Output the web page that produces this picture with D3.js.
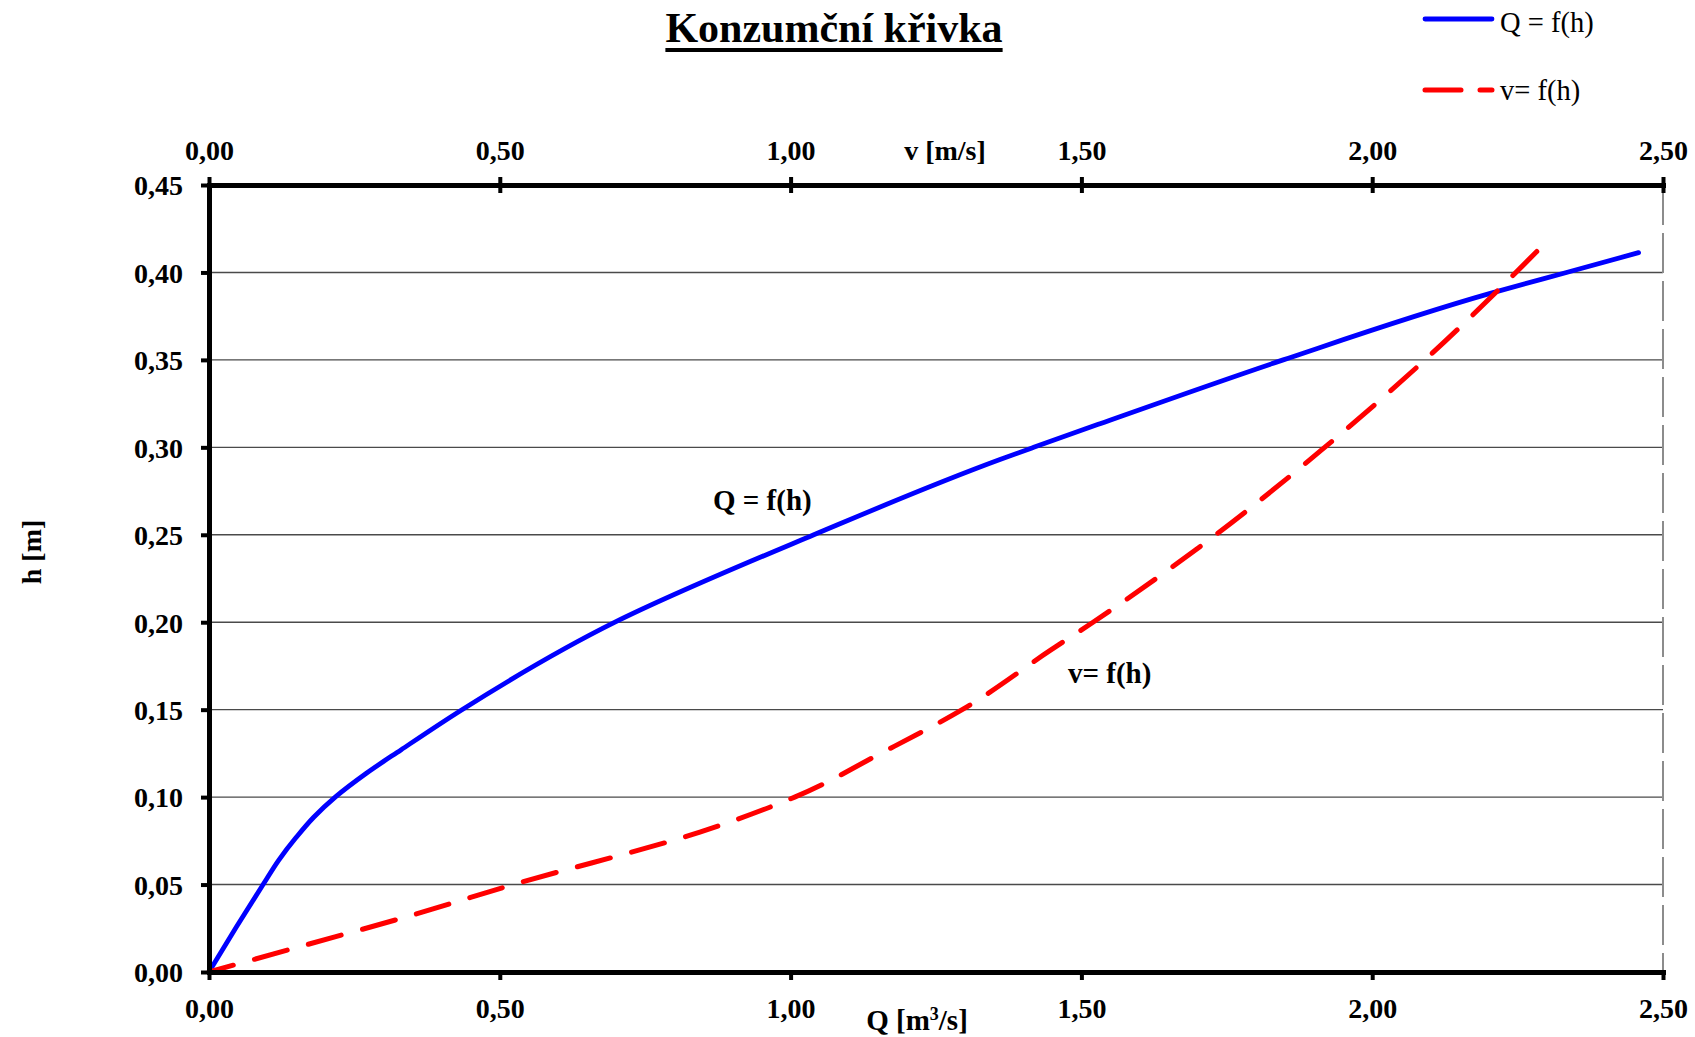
<!DOCTYPE html>
<html>
<head>
<meta charset="utf-8">
<script src="https://cdn.jsdelivr.net/npm/d3@7"></script>
<style>
  html, body { margin: 0; padding: 0; background: #fff; }
  svg { display: block; font-family: "Liberation Serif", "Times New Roman", serif; }
</style>
</head>
<body>
<svg id="chart" width="1695" height="1037"></svg>
<script>
// ---- data ----
const title = "Konzumční křivka";
const xTicks = [0, 0.5, 1.0, 1.5, 2.0, 2.5];
const yTicks = [0, 0.05, 0.10, 0.15, 0.20, 0.25, 0.30, 0.35, 0.40, 0.45];
// Q = f(h): discharge Q [m3/s] vs depth h [m]
const qValues = [0, 0.047, 0.093, 0.120, 0.150, 0.180, 0.217, 0.270, 0.330, 0.435, 0.698, 1.040, 1.360, 1.418, 1.532, 1.847, 2.203, 2.334, 2.458];
const qDepths = [0, 0.0257, 0.050, 0.064, 0.077, 0.0885, 0.100, 0.1135, 0.127, 0.150, 0.200, 0.250, 0.293, 0.300, 0.3135, 0.350, 0.388, 0.400, 0.4113];
// v = f(h): velocity v [m/s] vs depth h [m]
const vValues = [0, 0.156, 0.340, 0.523, 0.844, 1.007, 1.155, 1.295, 1.447, 1.520, 1.731, 1.913, 2.094, 2.240, 2.283];
const vDepths = [0, 0.0145, 0.0316, 0.050, 0.080, 0.100, 0.125, 0.150, 0.184, 0.200, 0.250, 0.2985, 0.351, 0.3976, 0.412];
const seriesNames = ["Q = f(h)", "v= f(h)"];

// ---- layout ----
const svg = d3.select("#chart");
const L = 209, R = 1663, T = 185, B = 972;
const x = d3.scaleLinear().domain([0, 2.5]).range([L, R]);
const y = d3.scaleLinear().domain([0, 0.45]).range([B, T]);
const fmt = d => d.toFixed(2).replace(".", ",");

// gridlines
svg.append("g").selectAll("line")
  .data(yTicks.filter(d => d > 0 && d < 0.45))
  .join("line")
  .attr("x1", L).attr("x2", R)
  .attr("y1", d => y(d)).attr("y2", d => y(d))
  .attr("stroke", "#4a4a4a").attr("stroke-width", 1.4);

// right dashed border
svg.append("line")
  .attr("x1", R).attr("x2", R).attr("y1", T).attr("y2", B)
  .attr("stroke", "#8c8c8c").attr("stroke-width", 2)
  .attr("stroke-dasharray", "40 8");

// series (points ordered top-down in pixel space for a monotone curve)
const line = d3.line().x(d => x(d[0])).y(d => y(d[1])).curve(d3.curveMonotoneY);
const qPts = qValues.map((q, i) => [q, qDepths[i]]).reverse();
const vPts = vValues.map((v, i) => [v, vDepths[i]]).reverse();

svg.append("path")
  .datum(qPts)
  .attr("d", line)
  .attr("fill", "none").attr("stroke", "#0000ff").attr("stroke-width", 4.8)
  .attr("stroke-linecap", "round").attr("stroke-linejoin", "round");

svg.append("path")
  .datum(vPts)
  .attr("d", line)
  .attr("fill", "none").attr("stroke", "#ff0000").attr("stroke-width", 5)
  .attr("stroke-linecap", "round")
  .attr("stroke-dasharray", "34 22");

// axes
function styleAxis(g) {
  g.select(".domain").attr("stroke", "#000").attr("stroke-width", 5).attr("stroke-linecap", "square");
  g.selectAll(".tick line").attr("stroke", "#000").attr("stroke-width", 4);
  g.selectAll(".tick text").attr("fill", "#000")
    .attr("font-size", 28).attr("font-weight", "bold")
    .attr("font-family", "Liberation Serif, Times New Roman, serif");
}

const gBottom = svg.append("g").attr("transform", `translate(0,${B})`)
  .call(d3.axisBottom(x).tickValues(xTicks).tickFormat(fmt).tickSizeInner(8).tickSizeOuter(0));
styleAxis(gBottom);
gBottom.selectAll(".tick text").attr("y", 46).attr("dy", 0);

const gTop = svg.append("g").attr("transform", `translate(0,${T})`)
  .call(d3.axisTop(x).tickValues(xTicks).tickFormat(fmt).tickSizeInner(8).tickSizeOuter(0));
styleAxis(gTop);
gTop.selectAll(".tick line").attr("y1", -8).attr("y2", 8);
gTop.selectAll(".tick text").attr("y", -25).attr("dy", 0);

const gLeft = svg.append("g").attr("transform", `translate(${L},0)`)
  .call(d3.axisLeft(y).tickValues(yTicks).tickFormat(fmt).tickSizeInner(8).tickSizeOuter(0));
styleAxis(gLeft);
gLeft.selectAll(".tick text").attr("x", -26).attr("dy", "0.35em");

// axis titles
svg.append("text").attr("x", 945).attr("y", 160).attr("text-anchor", "middle")
  .attr("font-size", 28).attr("font-weight", "bold").text("v [m/s]");

const qt = svg.append("text").attr("x", 917).attr("y", 1030).attr("text-anchor", "middle")
  .attr("font-size", 29).attr("font-weight", "bold");
qt.append("tspan").text("Q [m");
qt.append("tspan").attr("font-size", 18).attr("dy", -10).text("3");
qt.append("tspan").attr("dy", 10).text("/s]");

svg.append("text").attr("transform", "translate(41,552) rotate(-90)")
  .attr("text-anchor", "middle").attr("font-size", 28).attr("font-weight", "bold").text("h [m]");

// title with underline
const tt = svg.append("text").attr("x", 834).attr("y", 42).attr("text-anchor", "middle")
  .attr("font-size", 42).attr("font-weight", "bold").text(title);
const bb = tt.node().getBBox();
svg.append("rect").attr("x", bb.x).attr("y", 48).attr("width", bb.width).attr("height", 4).attr("fill", "#000");

// inline labels
svg.append("text").attr("x", 713).attr("y", 510).attr("font-size", 29).attr("font-weight", "bold").text(seriesNames[0]);
svg.append("text").attr("x", 1068).attr("y", 683).attr("font-size", 29).attr("font-weight", "bold").text(seriesNames[1]);

// legend
const lg = svg.append("g");
lg.append("line").attr("x1", 1425).attr("x2", 1492).attr("y1", 19).attr("y2", 19)
  .attr("stroke", "#0000ff").attr("stroke-width", 4.8).attr("stroke-linecap", "round");
lg.append("text").attr("x", 1500).attr("y", 32).attr("font-size", 28.5).text(seriesNames[0]);
lg.append("line").attr("x1", 1425).attr("x2", 1492).attr("y1", 90).attr("y2", 90)
  .attr("stroke", "#ff0000").attr("stroke-width", 5).attr("stroke-linecap", "round")
  .attr("stroke-dasharray", "36 19");
lg.append("text").attr("x", 1500).attr("y", 100).attr("font-size", 28.5).text(seriesNames[1]);
</script>
</body>
</html>
